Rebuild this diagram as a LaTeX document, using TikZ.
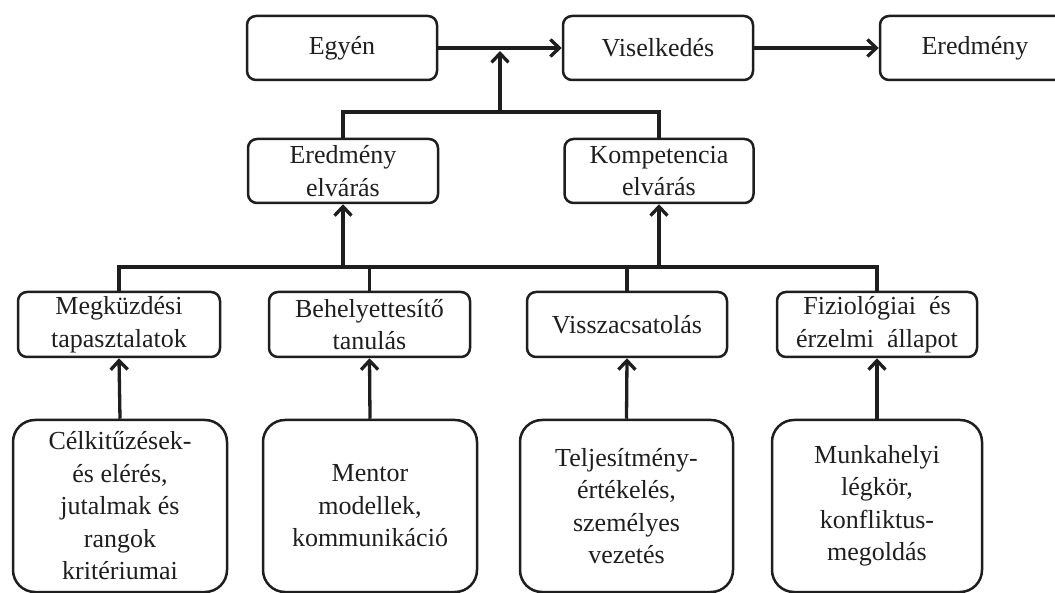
\documentclass[tikz,border=0pt]{standalone}
\usepackage{fontspec}
\setmainfont{Liberation Serif}
\usetikzlibrary{arrows.meta}
\definecolor{ink}{HTML}{1E1E1E}
\begin{document}
\begin{tikzpicture}[x=1pt,y=-1pt,
  box/.style={draw=ink, line width=2.5pt, rounded corners=9pt, align=center, inner sep=0pt,
    text=ink, font=\fontsize{26}{32.5}\selectfont},
  bigbox/.style={box, rounded corners=22pt, minimum height=172pt},
  midbox/.style={box, minimum height=65pt},
  conn/.style={draw=ink, line width=3.3pt},
  arr/.style={conn, -{Straight Barb[length=9pt,width=17pt]}}]
\useasboundingbox (0,0) rectangle (1055,593);
% top row
\node[box, minimum width=190pt, minimum height=64pt] (egyen) at (342,48) {Egyén};
\node[box, minimum width=190pt, minimum height=64pt] (visel) at (658,48) {Viselkedés};
\node[box, minimum width=190pt, minimum height=64pt] (ered) at (975,48) {Eredmény};
% second row
\node[box, minimum width=190pt, minimum height=64pt] (eelv) at (343,171) {Eredmény\\elvárás};
\node[box, minimum width=189pt, minimum height=64pt] (kelv) at (659,171) {Kompetencia\\elvárás};
% third row
\node[midbox, minimum width=202pt] (megk) at (119,324.5) {Megküzdési\\tapasztalatok};
\node[midbox, minimum width=201pt] (beh) at (369.5,324.5) {Behelyettesítő\\tanulás};
\node[midbox, minimum width=200pt] (vissz) at (627,324.5) {Visszacsatolás};
\node[midbox, minimum width=200pt] (fiz) at (877,324.5) {Fiziológiai \ és\\érzelmi \ állapot};
% bottom row
\node[bigbox, minimum width=214pt] (cel) at (120,506) {Célkitűzések-\\és elérés,\\jutalmak és\\rangok\\kritériumai};
\node[bigbox, minimum width=214pt] (mentor) at (370,506) {Mentor\\modellek,\\kommunikáció};
\node[bigbox, minimum width=213pt] (telj) at (626.5,506) {Teljesítmény-\\értékelés,\\személyes\\vezetés};
\node[bigbox, minimum width=210pt] (munk) at (877,506) {Munkahelyi\\légkör,\\konfliktus-\\megoldás};
% connectors top
\coordinate (b1) at (500,112);
\coordinate (t1) at (500,51);
\draw[arr] (egyen.east) -- (visel.west);
\draw[arr] (visel.east) -- (ered.west);
\draw[conn] (eelv.north) |- (b1) -| (kelv.north);
\draw[arr] (b1) -- (t1);
% middle bus
\coordinate (b2) at (500,267);
\draw[conn] (megk.north) |- (b2) -| (fiz.north);
\draw[conn] (beh.north) -- (beh.north |- b2);
\draw[conn] (vissz.north) -- (vissz.north |- b2);
\draw[arr] (eelv.south |- b2) -- (eelv.south);
\draw[arr] (kelv.south |- b2) -- (kelv.south);
% bottom arrows
\draw[arr] (cel.north) -- (megk.south);
\draw[arr] (mentor.north) -- (beh.south);
\draw[arr] (telj.north) -- (vissz.south);
\draw[arr] (munk.north) -- (fiz.south);
\end{tikzpicture}
\end{document}
